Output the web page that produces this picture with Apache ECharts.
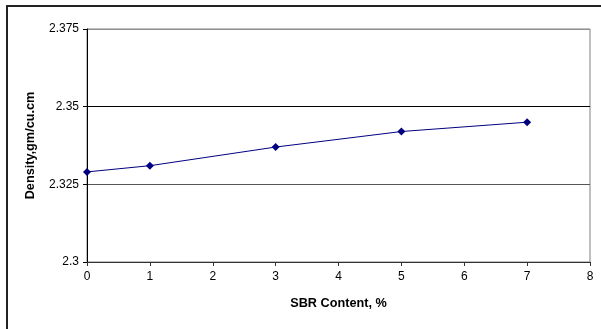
<!DOCTYPE html>
<html>
<head>
<meta charset="utf-8">
<script src="https://cdn.jsdelivr.net/npm/echarts@6/dist/echarts.min.js"></script>
<style>
  html, body { margin: 0; padding: 0; background: #fff; }
  #chart { width: 601px; height: 329px; }
</style>
</head>
<body>
<div id="chart"></div>
<script>
// data
var sbrContent = [0, 1, 3, 5, 7];
var density = [2.329, 2.331, 2.337, 2.342, 2.345];
var yTicks = [2.3, 2.325, 2.35, 2.375];

var dom = document.getElementById('chart');
var myChart = echarts.init(dom);

var points = sbrContent.map(function (x, i) { return [x, density[i]]; });

var option = {
  animation: false,
  textStyle: { fontFamily: 'Liberation Sans, Arial, sans-serif' },
  graphic: [
    {
      // outer chart frame, runs off the right and bottom edges
      type: 'rect',
      shape: { x: 7, y: 6, width: 640, height: 360 },
      style: { fill: 'none', stroke: '#222', lineWidth: 2 },
      silent: true
    }
  ],
  grid: {
    left: 87,
    right: 11,
    top: 29,
    bottom: 67,
    show: true,
    borderColor: '#808080',
    borderWidth: 1,
    backgroundColor: 'transparent'
  },
  xAxis: {
    type: 'value',
    min: 0,
    max: 8,
    interval: 1,
    name: 'SBR Content, %',
    nameLocation: 'middle',
    nameGap: 35,
    nameTextStyle: { fontSize: 12.7, fontWeight: 'bold', color: '#000' },
    axisLine: { show: true, lineStyle: { color: '#333', width: 1 } },
    axisTick: { show: true, inside: false, length: 4, lineStyle: { color: '#333' } },
    axisLabel: { fontSize: 12, color: '#000', margin: 9 },
    splitLine: { show: false }
  },
  yAxis: {
    type: 'value',
    min: 2.3,
    max: 2.375,
    interval: 0.025,
    name: 'Density,gm/cu.cm',
    nameLocation: 'middle',
    nameGap: 50,
    nameTextStyle: { fontSize: 12.7, fontWeight: 'bold', color: '#000' },
    axisLine: { show: true, lineStyle: { color: '#000', width: 1 } },
    axisTick: { show: true, inside: false, length: 4, lineStyle: { color: '#000' } },
    axisLabel: {
      fontSize: 12,
      color: '#000',
      margin: 8,
      formatter: function (v) {
        var t = yTicks.filter(function (k) { return Math.abs(k - v) < 1e-9; });
        return t.length ? String(t[0]) : '';
      }
    },
    splitLine: { show: true, lineStyle: { color: ['#333', '#555', '#000', '#909090'], width: 1 } }
  },
  series: [
    {
      type: 'line',
      data: points,
      symbol: 'diamond',
      symbolSize: 8,
      lineStyle: { color: '#000080', width: 1 },
      itemStyle: { color: '#000080' }
    }
  ]
};

myChart.setOption(option, true);
</script>
</body>
</html>
